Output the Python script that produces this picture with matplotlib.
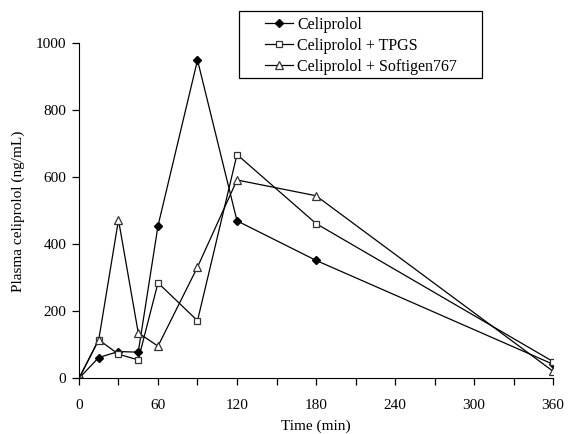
import numpy as np
import matplotlib.pyplot as plt
from matplotlib.patches import Rectangle

plt.rcParams['font.family'] = ['Liberation Serif', 'DejaVu Serif']

time_min = [0, 15, 30, 45, 60, 90, 120, 180, 360]
celiprolol = [0, 62, 80, 78, 455, 950, 470, 352, 42]
celiprolol_tpgs = [0, 115, 72, 55, 285, 172, 668, 462, 50]
celiprolol_softigen = [0, 115, 473, 136, 96, 332, 592, 545, 21]

fig = plt.figure(figsize=(5.69, 4.34), dpi=100)
ax = fig.add_axes([0.1388, 0.1283, 0.8332, 0.7719])

ax.plot(time_min, celiprolol, '-', color='black', lw=0.9, marker='D',
        ms=4.5, mfc='black', mec='black', label='Celiprolol')
ax.plot(time_min, celiprolol_tpgs, '-', color='black', lw=0.9, marker='s',
        ms=5, mfc='white', mec='#333333', mew=0.9, label='Celiprolol + TPGS')
ax.plot(time_min, celiprolol_softigen, '-', color='black', lw=0.9, marker='^',
        ms=5.5, mfc='white', mec='#333333', mew=0.9, label='Celiprolol + Softigen767')

ax.set_xlim(0, 360)
ax.set_ylim(0, 1000)
ax.set_xticks(np.arange(0, 361, 60))
ax.set_xticks(np.arange(0, 361, 30), minor=True)
ax.set_yticks(np.arange(0, 1001, 200))
ax.spines['top'].set_visible(False)
ax.spines['right'].set_visible(False)
ax.tick_params(axis='both', which='both', direction='out', labelsize=11, width=0.9)
ax.tick_params(axis='x', which='both', length=5, pad=10)
ax.tick_params(axis='y', length=5, pad=4)

ax.set_xlabel('Time (min)', fontsize=11, labelpad=5)
ax.set_ylabel('Plasma celiprolol (ng/mL)', fontsize=11, labelpad=8)

# legend without frame, box drawn separately (wider side padding as in the original)
leg = ax.legend(loc='upper left', bbox_to_anchor=(265 / 569, 1 - 17 / 434),
                bbox_transform=fig.transFigure, fontsize=11.5, frameon=False,
                handlelength=1.75, borderpad=0, labelspacing=0.3,
                handletextpad=0.25, borderaxespad=0)
fig.patches.append(Rectangle((239 / 569, 1 - 78 / 434), 243 / 569, 67 / 434,
                             transform=fig.transFigure, fill=False,
                             edgecolor='black', lw=0.9))

fig.savefig('out.png', dpi=100)
